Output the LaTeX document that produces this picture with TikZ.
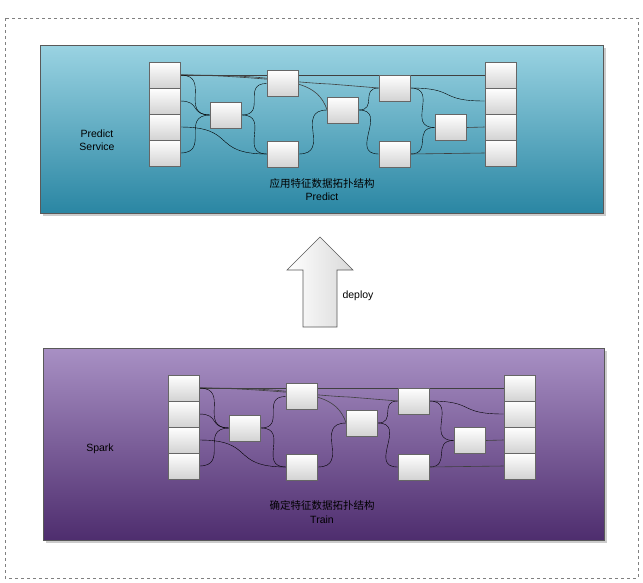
\documentclass[tikz,border=0pt]{standalone}
\usepackage{fontspec}
\setmainfont{Liberation Sans}
\newfontfamily\cjk{Noto Sans CJK SC}
\definecolor{tealA}{HTML}{9AD3E2}
\definecolor{tealB}{HTML}{2A86A3}
\definecolor{purA}{HTML}{A890C4}
\definecolor{purB}{HTML}{4E2D6E}
\tikzset{
  bx/.style={draw=gray!80!black, top color=white, bottom color=gray!35, minimum width=31pt, minimum height=26pt, inner sep=0pt, line width=0.6pt},
  ln/.style={draw=black!75, line width=0.6pt},
  cv/.style={ln, out=0, in=180, looseness=1.6},
  lbl/.style={font=\fontsize{10.5}{13}\selectfont, align=center},
  panel/.style={draw=gray!70!black, line width=0.6pt}
}
\newcommand{\mynodes}[1]{%
  \node[bx] (#1L1) at (164.5,75) {};
  \node[bx] (#1L2) at (164.5,101) {};
  \node[bx] (#1L3) at (164.5,127) {};
  \node[bx] (#1L4) at (164.5,153) {};
  \node[bx] (#1R1) at (500.5,75) {};
  \node[bx] (#1R2) at (500.5,101) {};
  \node[bx] (#1R3) at (500.5,127) {};
  \node[bx] (#1R4) at (500.5,153) {};
  \node[bx] (#1A) at (226,115) {};
  \node[bx] (#1B) at (282.5,83.5) {};
  \node[bx] (#1C) at (283,154) {};
  \node[bx] (#1D) at (343,110) {};
  \node[bx] (#1E) at (394.5,88) {};
  \node[bx] (#1F) at (394.5,154) {};
  \node[bx] (#1G) at (450.5,127.5) {};
}
\newcommand{\mynet}[1]{%
  \mynodes{#1}
  \draw[ln] (#1L1.east) -- (#1R1.west);
  \draw[ln] (#1L1.east) .. controls (300,75) and (318,85) .. (#1D.west);
  \draw[ln] (#1L1.east) .. controls (240,75) and (300,83) .. (330,84) -- (#1E.west);
  \draw (#1L1.east) to[cv] (#1A.west);
  \draw (#1L2.east) to[cv] (#1A.west);
  \draw (#1L4.east) to[cv] (#1A.west);
  \draw (#1L3.east) to[cv] (#1C.west);
  \draw (#1A.east) to[cv] (#1B.west);
  \draw (#1A.east) to[cv] (#1C.west);
  \draw (#1C.east) to[cv] (#1D.west);
  \draw (#1D.east) to[cv] (#1E.west);
  \draw (#1D.east) to[cv] (#1F.west);
  \draw (#1E.east) to[cv] (#1G.west);
  \draw (#1E.east) to[cv] (#1R2.west);
  \draw (#1F.east) to[cv] (#1G.west);
  \draw[ln] (#1F.east) -- (#1R4.west);
  \draw[ln] (#1G.east) -- (#1R3.west);
  \mynodes{#1}
}
\begin{document}
\begin{tikzpicture}[x=1pt,y=-1pt]
\useasboundingbox (0,0) rectangle (643,582);
\fill[white] (0,0) rectangle (643,582);
\draw[gray, dashed, line width=0.6pt] (5,18) rectangle (638,578);
\fill[gray!40] (43,48) rectangle (606,216);
\path[panel, top color=tealA, bottom color=tealB] (40,45) rectangle (603,213);
\fill[gray!40] (46,351) rectangle (607,543);
\path[panel, top color=purA, bottom color=purB] (43,348) rectangle (604,540);
\begin{scope}
\mynet{t}
\end{scope}
\begin{scope}[shift={(19,313)}]
\mynet{b}
\end{scope}
\node[lbl] (ps) at (97,140) {Predict\\Service};
\node[lbl] (t1) at (322,183) {\cjk 应用特征数据拓扑结构};
\node[lbl] (t2) at (322,197) {Predict};
\node[lbl] (sp) at (100,449) {Spark};
\node[lbl] (b1) at (322,505) {\cjk 确定特征数据拓扑结构};
\node[lbl] (b2) at (322,520) {Train};
\path[draw=gray!70!black, line width=0.6pt, left color=white, right color=gray!30]
  (303,327) -- (303,270) -- (287,270) -- (320,237) -- (353,270) -- (337,270) -- (337,327) -- cycle;
\node[lbl, anchor=west] (dp) at (339,296) {deploy};
\end{tikzpicture}
\end{document}
